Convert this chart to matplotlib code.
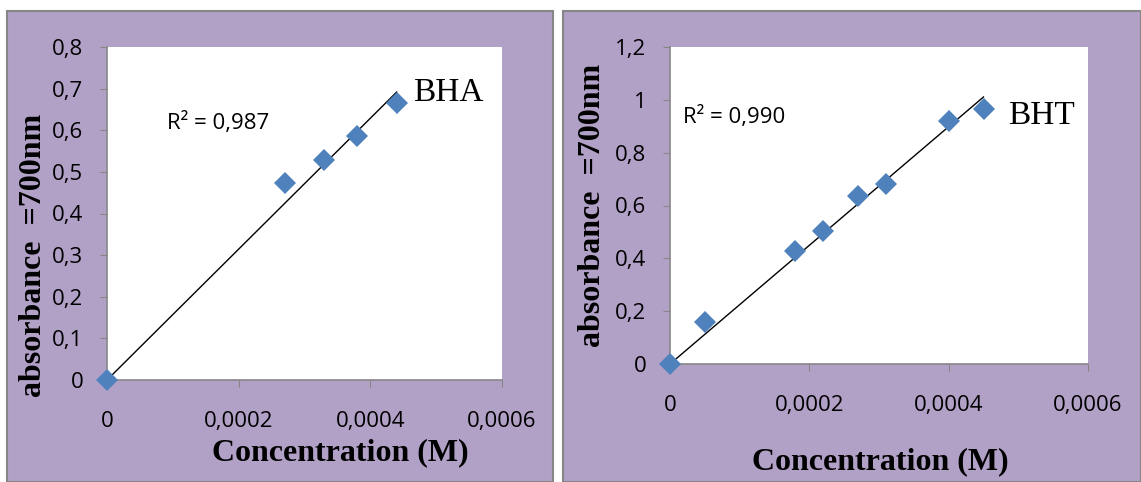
import numpy as np
import matplotlib
matplotlib.use("Agg")
import matplotlib.pyplot as plt
from matplotlib.patches import Rectangle

# BHA data
bha_conc = [0, 0.00027, 0.00033, 0.00038, 0.00044]
bha_abs = [0, 0.473, 0.529, 0.585, 0.665]
bha_r2 = "R² = 0,987"

# BHT data
bht_conc = [0, 0.00005, 0.00018, 0.00022, 0.00027, 0.00031, 0.0004, 0.00045]
bht_abs = [0, 0.16, 0.428, 0.502, 0.637, 0.68, 0.92, 0.966]
bht_r2 = "R² = 0,990"

x_ticks = [0, 0.0002, 0.0004, 0.0006]
x_ticklabels = ["0", "0,0002", "0,0004", "0,0006"]
bha_yticks = [0, 0.1, 0.2, 0.3, 0.4, 0.5, 0.6, 0.7, 0.8]
bha_yticklabels = ["0", "0,1", "0,2", "0,3", "0,4", "0,5", "0,6", "0,7", "0,8"]
bht_yticks = [0, 0.2, 0.4, 0.6, 0.8, 1.0, 1.2]
bht_yticklabels = ["0", "0,2", "0,4", "0,6", "0,8", "1", "1,2"]

PURPLE = "#b2a1c7"
GRAY = "#868686"
BLUE = "#4f81bd"
W, H = 1141, 482

fig = plt.figure(figsize=(11.41, 4.82), dpi=100)

# purple panel backgrounds (pixel coords -> figure fraction)
for x0, x1 in [(7, 553), (563, 1141)]:
    fig.patches.append(Rectangle((x0 / W, 0), (x1 - x0) / W, (482 - 11) / H,
                                 transform=fig.transFigure, facecolor=PURPLE,
                                 edgecolor=GRAY, linewidth=1.5, zorder=-10))


def panel(rect, xs, ys, yticks, yticklabels, ymax, r2, r2_pos, name, name_pos,
          xlabel_pos, ylabel_pos):
    ax = fig.add_axes(rect)
    ax.set_facecolor("white")
    xs = np.array(xs)
    ys = np.array(ys)
    # linear trendline through origin
    slope = np.sum(xs * ys) / np.sum(xs * xs)
    xl = np.array([0, xs.max()])
    ax.plot(xl, slope * xl, color="black", lw=1, zorder=2)
    ax.plot(xs, ys, linestyle="none", marker="D", ms=11, color=BLUE,
            markeredgewidth=0, zorder=3, clip_on=False)
    ax.set_xlim(0, 0.0006)
    ax.set_ylim(0, ymax)
    ax.set_xticks(x_ticks)
    ax.set_xticklabels(x_ticklabels)
    ax.set_yticks(yticks)
    ax.set_yticklabels(yticklabels)
    for s in ["top", "right"]:
        ax.spines[s].set_visible(False)
    for s in ["left", "bottom"]:
        ax.spines[s].set_color(GRAY)
        ax.spines[s].set_linewidth(1.2)
    ax.tick_params(axis="x", direction="out", length=5, color=GRAY, pad=17,
                   labelsize=16)
    ax.tick_params(axis="y", direction="out", length=5, color=GRAY, pad=12,
                   labelsize=16)
    for lab in ax.get_xticklabels() + ax.get_yticklabels():
        lab.set_fontfamily("Open Sans")
    ax.text(r2_pos[0], r2_pos[1], r2, transform=ax.transAxes, fontsize=16,
            family="Open Sans", va="center", ha="left")
    ax.text(name_pos[0], name_pos[1], name, transform=ax.transAxes, fontsize=24,
            family="Liberation Serif", va="center", ha="left")
    fig.text(xlabel_pos[0] / W, 1 - xlabel_pos[1] / H, "Concentration (M)",
             fontsize=23, fontweight="bold", family="Liberation Serif",
             ha="center", va="center")
    fig.text(ylabel_pos[0] / W, 1 - ylabel_pos[1] / H, "absorbance  =700nm",
             fontsize=23, fontweight="bold", family="Liberation Serif",
             ha="center", va="center", rotation=90)
    return ax


panel([107 / W, (482 - 380) / H, 395 / W, 333 / H], bha_conc, bha_abs,
      bha_yticks, bha_yticklabels, 0.8, bha_r2, (0.152, 0.772), "BHA",
      (0.775, 0.862), (340, 453), (34, 255))
panel([670 / W, (482 - 364) / H, 418 / W, 317 / H], bht_conc, bht_abs,
      bht_yticks, bht_yticklabels, 1.2, bht_r2, (0.031, 0.779), "BHT",
      (0.808, 0.782), (880, 462), (592, 205))

fig.savefig("out.png", dpi=100, facecolor="white")
